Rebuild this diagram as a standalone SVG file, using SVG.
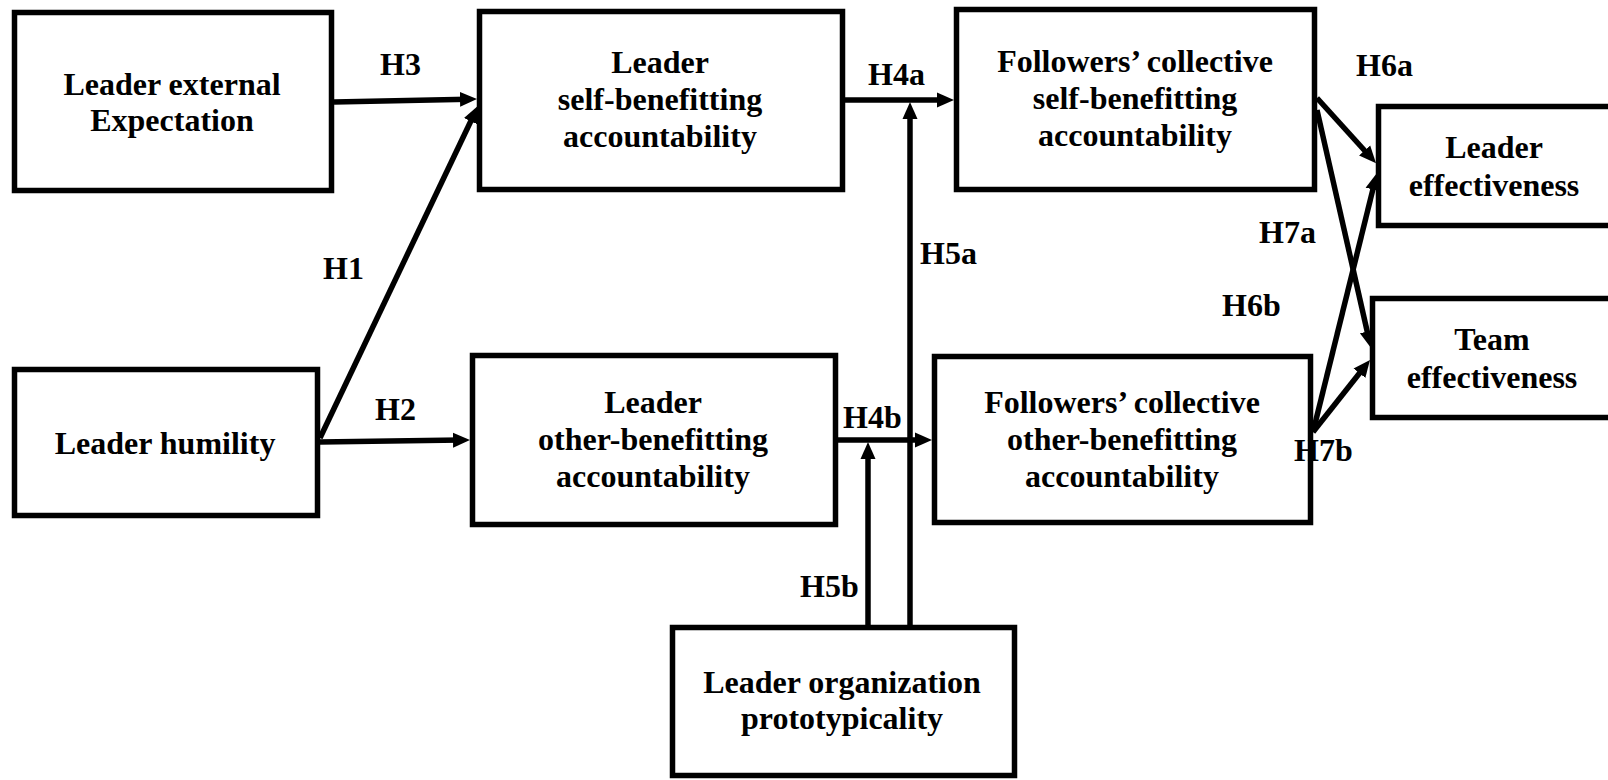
<svg xmlns="http://www.w3.org/2000/svg" width="1608" height="780" viewBox="0 0 1608 780">
<style>
.box{fill:#fff;stroke:#000;stroke-width:5.5}
.t{font-family:"Liberation Serif","Times New Roman",Times,serif;font-weight:bold;font-size:32px;fill:#000;text-anchor:middle}
.l{font-family:"Liberation Serif","Times New Roman",Times,serif;font-weight:bold;font-size:32px;fill:#000}
.c{stroke:#000;stroke-width:5.5;fill:none;marker-end:url(#ah)}
</style>
<defs>
<marker id="ah" markerUnits="userSpaceOnUse" markerWidth="20" markerHeight="18" viewBox="0 -9 20 18" refX="8" refY="0" orient="auto">
<path d="M0,-7.5 L17,0 L0,7.5 Z" fill="#000"/>
</marker>
</defs>
<rect width="1608" height="780" fill="#fff"/>
<g id="connectors">
<line class="c" x1="334" y1="102" x2="468" y2="99.2"/>
<line class="c" x1="320" y1="438" x2="474.2" y2="114"/>
<line class="c" x1="320" y1="442" x2="461" y2="440.1"/>
<line class="c" x1="845" y1="100" x2="945" y2="100"/>
<line class="c" x1="838" y1="440" x2="923" y2="440"/>
<line class="c" x1="910" y1="625" x2="910" y2="111"/>
<line class="c" x1="868" y1="625" x2="868" y2="451"/>
<line class="c" x1="1317" y1="98" x2="1370" y2="156.5"/>
<line class="c" x1="1317" y1="110" x2="1369" y2="339.3"/>
<line class="c" x1="1313" y1="432" x2="1374.8" y2="181.7"/>
<line class="c" x1="1313" y1="432" x2="1364.4" y2="367"/>
</g>
<g id="n-external">
<rect class="box" x="14.5" y="12.5" width="317" height="178"/>
<text class="t" x="172" y="95">Leader external</text>
<text class="t" x="172" y="131">Expectation</text>
</g>
<g id="n-humility">
<rect class="box" x="14.5" y="369.5" width="303" height="146"/>
<text class="t" x="165" y="454">Leader humility</text>
</g>
<g id="n-self">
<rect class="box" x="479.5" y="11.5" width="363" height="178"/>
<text class="t" x="660" y="73">Leader</text>
<text class="t" x="660" y="110">self-benefitting</text>
<text class="t" x="660" y="147">accountability</text>
</g>
<g id="n-other">
<rect class="box" x="472.5" y="355.5" width="363" height="169"/>
<text class="t" x="653" y="413">Leader</text>
<text class="t" x="653" y="450">other-benefitting</text>
<text class="t" x="653" y="487">accountability</text>
</g>
<g id="n-fself">
<rect class="box" x="956.5" y="9.5" width="358" height="180"/>
<text class="t" x="1135" y="72">Followers’ collective</text>
<text class="t" x="1135" y="109">self-benefitting</text>
<text class="t" x="1135" y="146">accountability</text>
</g>
<g id="n-fother">
<rect class="box" x="934.5" y="356.5" width="376" height="166"/>
<text class="t" x="1122" y="413">Followers’ collective</text>
<text class="t" x="1122" y="450">other-benefitting</text>
<text class="t" x="1122" y="487">accountability</text>
</g>
<g id="n-leff">
<rect class="box" x="1378.5" y="106.5" width="250" height="119"/>
<text class="t" x="1494" y="158">Leader</text>
<text class="t" x="1494" y="196">effectiveness</text>
</g>
<g id="n-teff">
<rect class="box" x="1372.5" y="298.5" width="250" height="119"/>
<text class="t" x="1492" y="350">Team</text>
<text class="t" x="1492" y="388">effectiveness</text>
</g>
<g id="n-proto">
<rect class="box" x="672.5" y="627.5" width="342" height="148"/>
<text class="t" x="842" y="693">Leader organization</text>
<text class="t" x="842" y="729">prototypicality</text>
</g>
<g id="labels">
<text class="l" x="380" y="75">H3</text>
<text class="l" x="323" y="279">H1</text>
<text class="l" x="375" y="420">H2</text>
<text class="l" x="868" y="85">H4a</text>
<text class="l" x="1356" y="76">H6a</text>
<text class="l" x="920" y="264">H5a</text>
<text class="l" x="1259" y="243">H7a</text>
<text class="l" x="1222" y="316">H6b</text>
<text class="l" x="843" y="428">H4b</text>
<text class="l" x="1294" y="461">H7b</text>
<text class="l" x="800" y="597">H5b</text>
</g>
</svg>
